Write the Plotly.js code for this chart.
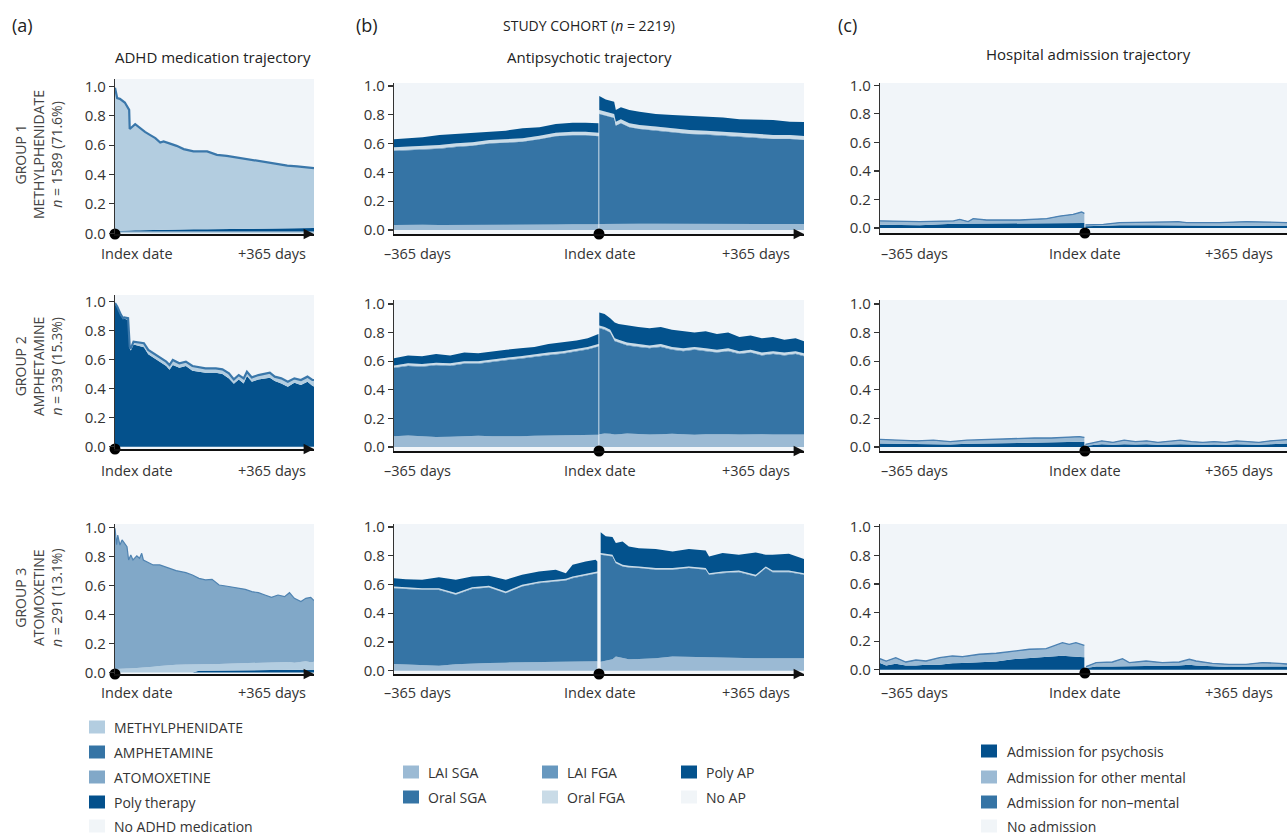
<!DOCTYPE html>
<html>
<head>
<meta charset="utf-8">
<script src="https://cdn.plot.ly/plotly-3.0.1.min.js"></script>
<style>html,body{margin:0;padding:0;background:#fff;}#chart{width:1287px;height:838px;}</style>
</head>
<body>
<div id="chart"></div>
<script>
// ---------------- DATA ----------------
// Panel (a) — ADHD medication trajectory (days after index date)
const xa1 = [0,4,9,18,26,27,37,46,55,64,74,83,89,101,113,126,144,169,187,205,230,255,279,297,316,334,353,365];
const a1_other = [0.012,0.012,0.012,0.012,0.012,0.012,0.012,0.012,0.012,0.012,0.012,0.012,0.012,0.012,0.012,0.012,0.012,0.012,0.012,0.012,0.012,0.012,0.012,0.012,0.012,0.012,0.012,0.012];
const a1_poly = [0.003,0.004,0.005,0.006,0.007,0.007,0.008,0.009,0.010,0.011,0.012,0.012,0.013,0.014,0.015,0.015,0.016,0.016,0.017,0.017,0.017,0.018,0.018,0.019,0.020,0.021,0.022,0.023];
const a1_mph = [0.975,0.904,0.898,0.872,0.821,0.691,0.723,0.695,0.668,0.647,0.624,0.594,0.600,0.584,0.568,0.546,0.529,0.529,0.505,0.498,0.482,0.465,0.452,0.442,0.429,0.422,0.414,0.408];

const xa2 = [0,4,11,15,17,24,27,29,34,46,53,61,76,94,100,106,118,130,142,154,166,185,197,209,218,227,236,242,251,263,275,284,293,305,317,329,341,353,362,365];
const a2_amph = [0.985,0.961,0.902,0.879,0.882,0.875,0.678,0.663,0.704,0.692,0.685,0.637,0.602,0.556,0.531,0.563,0.545,0.556,0.524,0.517,0.510,0.510,0.501,0.471,0.434,0.464,0.436,0.487,0.448,0.464,0.469,0.475,0.453,0.436,0.413,0.441,0.425,0.448,0.420,0.415];
const a2_mph = [0.005,0.005,0.006,0.006,0.008,0.01,0.012,0.015,0.02,0.025,0.028,0.03,0.03,0.03,0.032,0.035,0.03,0.03,0.032,0.03,0.03,0.03,0.032,0.035,0.03,0.03,0.035,0.03,0.03,0.03,0.032,0.035,0.03,0.035,0.035,0.03,0.035,0.035,0.04,0.045];

const xa3 = [0,3,5,9,13,17,22,25,29,33,40,45,49,52,58,70,82,94,103,112,130,142,154,166,178,191,203,215,227,239,251,263,275,287,299,311,320,329,341,350,359,365];
const a3_poly = [0,0,0,0,0,0,0,0,0,0,0,0,0,0,0,0,0,0,0,0,0,0,0.012,0.012,0.013,0.013,0.014,0.015,0.015,0.016,0.016,0.017,0.017,0.017,0.018,0.018,0.018,0.018,0.018,0.019,0.019,0.019];
const a3_mph = [0.025,0.025,0.026,0.026,0.027,0.027,0.028,0.028,0.029,0.03,0.031,0.032,0.033,0.034,0.036,0.04,0.045,0.05,0.052,0.053,0.055,0.055,0.045,0.045,0.046,0.046,0.047,0.047,0.048,0.048,0.049,0.05,0.05,0.052,0.05,0.052,0.055,0.05,0.055,0.058,0.052,0.055];
const a3_atx = [0.968,0.855,0.921,0.852,0.886,0.863,0.839,0.747,0.781,0.745,0.772,0.755,0.788,0.741,0.728,0.701,0.696,0.675,0.659,0.649,0.633,0.617,0.592,0.581,0.583,0.544,0.535,0.525,0.517,0.509,0.492,0.483,0.467,0.449,0.466,0.453,0.477,0.443,0.416,0.434,0.447,0.421];

// Panel (b) — Antipsychotic trajectory
const xb1pre = [-365,-343,-314,-284,-254,-225,-195,-166,-136,-106,-77,-47,-24,-1];
const b1pre_laiSGA = [0.035,0.037,0.036,0.034,0.034,0.035,0.036,0.034,0.033,0.036,0.038,0.04,0.04,0.04];
const b1pre_oralSGA = [0.514,0.516,0.522,0.531,0.543,0.55,0.564,0.571,0.579,0.594,0.613,0.618,0.618,0.611];
const b1pre_laiFGA = [0.004,0.004,0.004,0.004,0.004,0.004,0.004,0.004,0.004,0.004,0.004,0.004,0.004,0.004];
const b1pre_oralFGA = [0.021,0.021,0.021,0.021,0.021,0.021,0.021,0.021,0.021,0.021,0.021,0.021,0.021,0.021];
const b1pre_poly = [0.056,0.059,0.061,0.07,0.065,0.066,0.058,0.06,0.069,0.058,0.06,0.062,0.062,0.065];
const xb1post = [0.5,12,27,30,39,54,72,101,131,161,191,221,250,280,310,340,365];
const b1post_laiSGA = [0.042,0.043,0.043,0.042,0.043,0.043,0.044,0.044,0.043,0.043,0.042,0.042,0.042,0.041,0.041,0.041,0.041];
const b1post_oralSGA = [0.763,0.751,0.735,0.682,0.698,0.67,0.657,0.646,0.635,0.623,0.62,0.613,0.606,0.602,0.591,0.591,0.584];
const b1post_laiFGA = [0.004,0.004,0.004,0.004,0.004,0.004,0.004,0.004,0.004,0.004,0.004,0.004,0.004,0.004,0.004,0.004,0.004];
const b1post_oralFGA = [0.024,0.024,0.024,0.024,0.024,0.024,0.024,0.024,0.024,0.024,0.024,0.024,0.024,0.024,0.024,0.024,0.024];
const b1post_poly = [0.097,0.085,0.085,0.081,0.083,0.092,0.093,0.088,0.093,0.098,0.097,0.099,0.093,0.093,0.104,0.092,0.097];

const xb2pre = [-365,-340,-315,-290,-265,-240,-215,-190,-165,-140,-115,-90,-65,-40,-20,-1];
const b2pre_laiSGA = [0.075,0.08,0.075,0.07,0.072,0.075,0.078,0.075,0.073,0.075,0.078,0.08,0.078,0.08,0.082,0.085];
const b2pre_oralSGA = [0.477,0.487,0.487,0.502,0.495,0.507,0.504,0.522,0.534,0.542,0.554,0.562,0.574,0.587,0.60,0.617];
const b2pre_laiFGA = [0.005,0.005,0.005,0.005,0.005,0.005,0.005,0.005,0.005,0.005,0.005,0.005,0.005,0.005,0.005,0.005];
const b2pre_oralFGA = [0.013,0.013,0.013,0.013,0.013,0.013,0.013,0.013,0.013,0.013,0.013,0.013,0.013,0.013,0.013,0.013];
const b2pre_poly = [0.05,0.055,0.055,0.06,0.055,0.06,0.055,0.055,0.055,0.055,0.05,0.06,0.06,0.06,0.06,0.07];
const xb2post = [0.5,10,20,28,35,50,70,90,110,130,150,170,190,210,230,250,270,290,310,330,350,365];
const b2post_laiSGA = [0.09,0.095,0.092,0.088,0.09,0.094,0.091,0.087,0.089,0.093,0.09,0.086,0.09,0.092,0.089,0.087,0.091,0.09,0.088,0.089,0.09,0.088];
const b2post_oralSGA = [0.74,0.725,0.708,0.652,0.64,0.616,0.609,0.603,0.611,0.587,0.58,0.594,0.58,0.568,0.581,0.563,0.569,0.55,0.562,0.551,0.56,0.547];
const b2post_laiFGA = [0.005,0.005,0.005,0.005,0.005,0.005,0.005,0.005,0.005,0.005,0.005,0.005,0.005,0.005,0.005,0.005,0.005,0.005,0.005,0.005,0.005,0.005];
const b2post_oralFGA = [0.015,0.015,0.015,0.015,0.015,0.015,0.015,0.015,0.015,0.015,0.015,0.015,0.015,0.015,0.015,0.015,0.015,0.015,0.015,0.015,0.015,0.015];
const b2post_poly = [0.09,0.09,0.08,0.11,0.11,0.12,0.12,0.12,0.12,0.12,0.12,0.10,0.12,0.11,0.11,0.10,0.10,0.10,0.10,0.09,0.09,0.085];

const xb3pre = [-365,-344,-315,-285,-255,-226,-196,-166,-137,-107,-77,-59,-47,-24,-6,-3];
const b3pre_laiSGA = [0.047,0.044,0.04,0.035,0.045,0.051,0.053,0.056,0.058,0.06,0.061,0.062,0.063,0.064,0.065,0.065];
const b3pre_oralSGA = [0.527,0.524,0.522,0.527,0.483,0.518,0.526,0.483,0.528,0.549,0.56,0.566,0.581,0.598,0.614,0.613];
const b3pre_laiFGA = [0.004,0.004,0.004,0.004,0.004,0.004,0.004,0.004,0.004,0.004,0.004,0.004,0.004,0.004,0.004,0.004];
const b3pre_oralFGA = [0.008,0.008,0.008,0.008,0.008,0.008,0.008,0.008,0.008,0.008,0.008,0.008,0.008,0.008,0.008,0.008];
const b3pre_poly = [0.058,0.057,0.059,0.077,0.093,0.075,0.069,0.082,0.069,0.07,0.069,0.039,0.081,0.086,0.081,0.07];
const xb3post = [3,12,24,30,42,53,71,101,131,160,190,196,220,249,279,297,309,338,365];
const b3post_laiSGA = [0.063,0.07,0.08,0.098,0.09,0.079,0.082,0.086,0.098,0.095,0.093,0.092,0.09,0.086,0.087,0.086,0.086,0.086,0.086];
const b3post_oralSGA = [0.744,0.73,0.715,0.65,0.635,0.639,0.632,0.616,0.604,0.619,0.609,0.575,0.589,0.6,0.568,0.628,0.6,0.6,0.581];
const b3post_laiFGA = [0.004,0.004,0.004,0.004,0.004,0.004,0.004,0.004,0.004,0.004,0.004,0.004,0.004,0.004,0.004,0.004,0.004,0.004,0.004];
const b3post_oralFGA = [0.008,0.008,0.008,0.008,0.008,0.008,0.008,0.008,0.008,0.008,0.008,0.008,0.008,0.008,0.008,0.008,0.008,0.008,0.008];
const b3post_poly = [0.144,0.123,0.123,0.128,0.163,0.135,0.127,0.133,0.116,0.121,0.123,0.116,0.128,0.109,0.156,0.081,0.109,0.116,0.098];

// Panel (c) — Hospital admission trajectory
const xc1pre = [-365,-294,-234,-223,-208,-199,-175,-116,-68,-45,-21,-6,-1];
const c1pre_psych = [0.023,0.019,0.03,0.03,0.031,0.032,0.035,0.035,0.035,0.035,0.035,0.035,0.035];
const c1pre_other = [0.024,0.023,0.017,0.028,0.011,0.031,0.018,0.018,0.028,0.046,0.058,0.074,0.065];
const c1pre_nonmental = [0.003,0.003,0.003,0.003,0.003,0.003,0.003,0.003,0.003,0.003,0.003,0.003,0.003];
const xc1post = [1,33,62,122,151,166,181,240,288,359,365];
const c1post_psych = [0.012,0.015,0.019,0.019,0.018,0.018,0.016,0.014,0.015,0.014,0.014];
const c1post_other = [0.007,0.008,0.016,0.016,0.022,0.024,0.019,0.021,0.027,0.021,0.021];
const c1post_nonmental = [0.003,0.003,0.003,0.003,0.003,0.003,0.003,0.003,0.003,0.003,0.003];

const xc2pre = [-365,-330,-300,-270,-240,-210,-180,-150,-120,-90,-60,-30,-10,-1];
const c2pre_psych = [0.025,0.022,0.02,0.022,0.018,0.022,0.025,0.028,0.03,0.032,0.033,0.035,0.036,0.035];
const c2pre_other = [0.025,0.023,0.02,0.023,0.017,0.023,0.025,0.022,0.025,0.028,0.027,0.03,0.034,0.03];
const c2pre_nonmental = [0.003,0.003,0.003,0.003,0.003,0.003,0.003,0.003,0.003,0.003,0.003,0.003,0.003,0.003];
const xc2post = [1,15,30,50,70,90,110,130,150,170,190,210,230,250,270,290,310,330,350,365];
const c2post_psych = [0.008,0.015,0.02,0.015,0.02,0.018,0.02,0.015,0.018,0.02,0.018,0.015,0.018,0.015,0.02,0.018,0.015,0.02,0.022,0.025];
const c2post_other = [0.007,0.01,0.02,0.015,0.025,0.017,0.02,0.015,0.017,0.025,0.017,0.015,0.017,0.015,0.02,0.017,0.015,0.02,0.023,0.025];
const c2post_nonmental = [0.003,0.003,0.003,0.003,0.003,0.003,0.003,0.003,0.003,0.003,0.003,0.003,0.003,0.003,0.003,0.003,0.003,0.003,0.003,0.003];

const xc3pre = [-365,-354,-337,-319,-301,-283,-259,-236,-218,-188,-158,-129,-99,-69,-40,-28,-16,-1];
const c3pre_psych = [0.047,0.03,0.042,0.03,0.03,0.035,0.035,0.045,0.047,0.053,0.058,0.074,0.081,0.086,0.098,0.095,0.093,0.088];
const c3pre_other = [0.027,0.028,0.039,0.021,0.035,0.023,0.046,0.048,0.041,0.052,0.054,0.054,0.059,0.058,0.088,0.079,0.093,0.079];
const c3pre_nonmental = [0.003,0.003,0.003,0.003,0.003,0.003,0.003,0.003,0.003,0.003,0.003,0.003,0.003,0.003,0.003,0.003,0.003,0.003];
const xc3post = [2,20,49,67,79,109,138,168,186,198,227,257,287,316,346,358,365];
const c3post_psych = [0.012,0.023,0.023,0.025,0.023,0.025,0.028,0.03,0.035,0.03,0.023,0.019,0.02,0.023,0.023,0.023,0.023];
const c3post_other = [0.007,0.024,0.028,0.049,0.024,0.033,0.019,0.021,0.035,0.028,0.019,0.016,0.015,0.024,0.019,0.012,0.012];
const c3post_nonmental = [0.003,0.003,0.003,0.003,0.003,0.003,0.003,0.003,0.003,0.003,0.003,0.003,0.003,0.003,0.003,0.003,0.003];

// Text
const yTicks = [0,0.2,0.4,0.6,0.8,1.0];
const yTickText = ['0.0','0.2','0.4','0.6','0.8','1.0'];
const rowLabels = ['GROUP 1<br>METHYLPHENIDATE<br><i>n</i> = 1589 (71.6%)','GROUP 2<br>AMPHETAMINE<br><i>n</i> = 339 (15.3%)','GROUP 3<br>ATOMOXETINE<br><i>n</i> = 291 (13.1%)'];
const legendA = ['METHYLPHENIDATE','AMPHETAMINE','ATOMOXETINE','Poly therapy','No ADHD medication'];
const legendB = ['LAI SGA','Oral SGA','LAI FGA','Oral FGA','Poly AP','No AP'];
const legendC = ['Admission for psychosis','Admission for other mental','Admission for non–mental','No admission'];

// ---------------- STYLE ----------------
const W = 1287, H = 838;
const FONT = 'Open Sans, Noto Sans, sans-serif';
const TXT = '#333';
const BG = '#f1f5f9';
const C = {
  mph:'#b3cde0', mphLine:'#3a77aa', amph:'#3574a5', amphDark:'#04518c', atx:'#81a8c8', atxLine:'#4f83b1', poly:'#03508c',
  laiSGA:'#9bbad4', oralSGA:'#3574a5', laiFGA:'#6798bf', oralFGA:'#c9dbe7', polyAP:'#03528d',
  psych:'#03508c', other:'#9bbad4', nonmental:'#3574a5'
};
const legendAColors = [C.mph, C.amph, C.atx, C.poly, '#f1f5f8'];
const legendBColors = [C.laiSGA, C.oralSGA, C.laiFGA, C.oralFGA, C.polyAP, '#f1f5f8'];
const legendCColors = [C.psych, C.other, C.nonmental, '#f1f5f8'];

const px = p => p / W;
const py = p => 1 - p / H;

// subplot geometry [x-domain px, y-domain px (top,bottom), y-range, x-range]
const cols = {a:[115,314], b:[394,804], c:[880,1287]};
const geo = [
  {col:'a', y:[79,234], yr:[-0.005,1.05], xr:[0,365]},
  {col:'b', y:[83,234], yr:[-0.028,1.021], xr:[-365,365]},
  {col:'c', y:[83,233], yr:[-0.035,1.016], xr:[-365,360]},
  {col:'a', y:[295,449], yr:[-0.015,1.045], xr:[0,365]},
  {col:'b', y:[300,451], yr:[-0.028,1.028], xr:[-365,365]},
  {col:'c', y:[300,451], yr:[-0.028,1.028], xr:[-365,360]},
  {col:'a', y:[524,674], yr:[-0.01,1.023], xr:[0,365]},
  {col:'b', y:[524,674], yr:[-0.023,1.021], xr:[-365,365]},
  {col:'c', y:[524,673], yr:[-0.023,1.019], xr:[-365,360]}
];

const traces = [];
const axn = i => (i === 1 ? '' : String(i));
function stack(i, group, x, layers) {
  layers.forEach(l => traces.push({
    type:'scatter', mode:'lines', x:x, y:l.y, name:l.n,
    xaxis:'x'+axn(i), yaxis:'y'+axn(i), stackgroup:group,
    fillcolor:l.c, line:{width:l.lw || 0, color:l.lc || l.c, shape:'linear'},
    hoverinfo:'skip', showlegend:false
  }));
}

// (a)
stack(1,'a1',xa1,[{n:'Other',y:a1_other,c:C.mph},{n:'Poly therapy',y:a1_poly,c:C.poly},{n:'METHYLPHENIDATE',y:a1_mph,c:C.mph,lw:2.2,lc:C.mphLine}]);
stack(4,'a2',xa2,[{n:'AMPHETAMINE',y:a2_amph,c:C.amphDark},{n:'METHYLPHENIDATE',y:a2_mph,c:C.mph,lw:2.2,lc:C.mphLine}]);
stack(7,'a3',xa3,[{n:'Poly therapy',y:a3_poly,c:C.poly},{n:'METHYLPHENIDATE',y:a3_mph,c:C.mph},{n:'ATOMOXETINE',y:a3_atx,c:C.atx,lw:1.2,lc:C.atxLine}]);
// (b)
function bLayers(l, o, lf, of, p) {
  return [{n:'LAI SGA',y:l,c:C.laiSGA},{n:'Oral SGA',y:o,c:C.oralSGA},{n:'LAI FGA',y:lf,c:C.laiFGA},{n:'Oral FGA',y:of,c:C.oralFGA},{n:'Poly AP',y:p,c:C.polyAP}];
}
stack(2,'b1pre',xb1pre,bLayers(b1pre_laiSGA,b1pre_oralSGA,b1pre_laiFGA,b1pre_oralFGA,b1pre_poly));
stack(2,'b1post',xb1post,bLayers(b1post_laiSGA,b1post_oralSGA,b1post_laiFGA,b1post_oralFGA,b1post_poly));
stack(5,'b2pre',xb2pre,bLayers(b2pre_laiSGA,b2pre_oralSGA,b2pre_laiFGA,b2pre_oralFGA,b2pre_poly));
stack(5,'b2post',xb2post,bLayers(b2post_laiSGA,b2post_oralSGA,b2post_laiFGA,b2post_oralFGA,b2post_poly));
stack(8,'b3pre',xb3pre,bLayers(b3pre_laiSGA,b3pre_oralSGA,b3pre_laiFGA,b3pre_oralFGA,b3pre_poly));
stack(8,'b3post',xb3post,bLayers(b3post_laiSGA,b3post_oralSGA,b3post_laiFGA,b3post_oralFGA,b3post_poly));
// (c)
function cLayers(p, o, n) {
  return [{n:'Admission for psychosis',y:p,c:C.psych},{n:'Admission for other mental',y:o,c:C.other},{n:'Admission for non–mental',y:n,c:C.nonmental,lw:1.3,lc:'#4b81b3'}];
}
stack(3,'c1pre',xc1pre,cLayers(c1pre_psych,c1pre_other,c1pre_nonmental));
stack(3,'c1post',xc1post,cLayers(c1post_psych,c1post_other,c1post_nonmental));
stack(6,'c2pre',xc2pre,cLayers(c2pre_psych,c2pre_other,c2pre_nonmental));
stack(6,'c2post',xc2post,cLayers(c2post_psych,c2post_other,c2post_nonmental));
stack(9,'c3pre',xc3pre,cLayers(c3pre_psych,c3pre_other,c3pre_nonmental));
stack(9,'c3post',xc3post,cLayers(c3post_psych,c3post_other,c3post_nonmental));

// ---------------- LAYOUT ----------------
const layout = {
  width:W, height:H, margin:{l:0,r:0,t:0,b:0},
  paper_bgcolor:'#ffffff', plot_bgcolor:BG,
  font:{family:FONT, color:TXT, size:14},
  showlegend:false, annotations:[], shapes:[]
};
const ann = layout.annotations, shp = layout.shapes;

geo.forEach((g, k) => {
  const i = k + 1, n = axn(i);
  const xd = cols[g.col];
  layout['xaxis'+n] = {domain:[px(xd[0]), px(xd[1])], range:g.xr, anchor:'y'+n,
    showline:true, linecolor:'#111', linewidth:1.6, showticklabels:false, ticks:'', showgrid:false, zeroline:false, fixedrange:true};
  layout['yaxis'+n] = {domain:[py(g.y[1]), py(g.y[0])], range:g.yr, anchor:'x'+n,
    tickvals:yTicks, ticktext:yTickText, ticks:'outside', ticklen:5, tickwidth:1.2, tickcolor:'#333',
    tickfont:{size:15, color:TXT, family:FONT}, showline:true, linecolor:'#333', linewidth:1.2,
    showgrid:false, zeroline:false, fixedrange:true};
  // index-date dot on the time axis
  const dotX = g.col === 'a' ? g.xr[0] : 0;
  traces.push({type:'scatter', mode:'markers', x:[dotX], y:[g.yr[0]], xaxis:'x'+n, yaxis:'y'+n,
    marker:{size:11, color:'#000'}, cliponaxis:false, hoverinfo:'skip', showlegend:false});
  // arrow head at the end of the time axis
  ann.push({x:365, y:g.yr[0], xref:'x'+n, yref:'y'+n, ax:-10, ay:0, text:'', showarrow:true,
    arrowhead:2, arrowsize:1.3, arrowwidth:1.6, arrowcolor:'#111', standoff:0});
});

// axis labels of the time axes
const rowLabelY = [253, 471, 692];
rowLabelY.forEach(y => {
  const t = (text, x, xa) => ann.push({text:text, x:px(x), y:py(y), xref:'paper', yref:'paper', xanchor:xa, yanchor:'middle', showarrow:false, font:{size:14.5, color:TXT}});
  t('Index date', 99, 'left'); t('+365 days', 308, 'right');
  t('–365 days', 382, 'left'); t('Index date', 600, 'center'); t('+365 days', 792, 'right');
  t('–365 days', 879, 'left'); t('Index date', 1085, 'center'); t('+365 days', 1275, 'right');
});

// titles
const T = (text, x, y, xa, size) => ann.push({text:text, x:px(x), y:py(y), xref:'paper', yref:'paper', xanchor:xa, yanchor:'middle', showarrow:false, font:{size:size, color:'#222'}});
T('(a)', 10, 25, 'left', 18); T('(b)', 354, 25, 'left', 18); T('(c)', 836, 25, 'left', 18);
T('ADHD medication trajectory', 213, 57, 'center', 15);
T('STUDY COHORT (<i>n</i> = 2219)', 589, 25, 'center', 14);
T('Antipsychotic trajectory', 589, 57, 'center', 15);
T('Hospital admission trajectory', 1088, 54, 'center', 15);

// row labels
[155, 367, 598].forEach((y, r) => ann.push({text:rowLabels[r], x:px(38), y:py(y), xref:'paper', yref:'paper', xanchor:'center', yanchor:'middle', textangle:-90, showarrow:false, font:{size:14, color:'#444'}}));

// legends
function legendItem(x0, yc, color, text, tx) {
  shp.push({type:'rect', xref:'paper', yref:'paper', x0:px(x0), x1:px(x0+16), y0:py(yc+6.5), y1:py(yc-6.5), fillcolor:color, line:{width:0}, layer:'above'});
  ann.push({text:text, x:px(tx), y:py(yc), xref:'paper', yref:'paper', xanchor:'left', yanchor:'middle', showarrow:false, borderpad:0, font:{size:14, color:TXT}});
}
[727,752,777,802,826].forEach((y, k) => legendItem(89, y, legendAColors[k], legendA[k], 113));
const bPos = [[403,772],[403,797],[542,772],[542,797],[681,772],[681,797]];
bPos.forEach((p, k) => legendItem(p[0], p[1], legendBColors[k], legendB[k], p[0]+24));
[751,777,802,826].forEach((y, k) => legendItem(981, y, legendCColors[k], legendC[k], 1006));

Plotly.newPlot('chart', traces, layout, {displayModeBar:false, staticPlot:true});
</script>
</body>
</html>
